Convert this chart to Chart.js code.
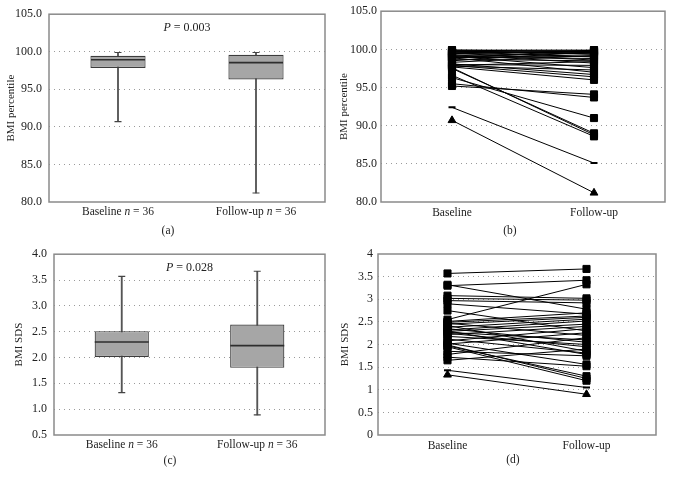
<!DOCTYPE html>
<html>
<head>
<meta charset="utf-8">
<script src="https://cdn.jsdelivr.net/npm/chart.js@4.4.0/dist/chart.umd.min.js"></script>
<style>
  body { margin: 0; background: #fff; width: 673px; height: 478px; position: relative; overflow: hidden;
         font-family: 'Liberation Serif', 'DejaVu Serif', serif; }
  canvas { position: absolute; }
  .cap { position: absolute; font-size: 11.5px; color: #222; transform: translateX(-50%); line-height: 14px; }
</style>
</head>
<body>
<canvas id="chartA" width="334" height="224" style="left:0;top:0"></canvas>
<canvas id="chartB" width="339" height="224" style="left:334px;top:0"></canvas>
<canvas id="chartC" width="334" height="220" style="left:0;top:240px"></canvas>
<canvas id="chartD" width="339" height="220" style="left:334px;top:240px"></canvas>
<div class="cap" style="left:168px;top:223px">(a)</div>
<div class="cap" style="left:510px;top:223px">(b)</div>
<div class="cap" style="left:170px;top:453px">(c)</div>
<div class="cap" style="left:513px;top:452px">(d)</div>
<script>
// categories
const boxLabels = ['Baseline', 'Follow-up'];
const nLabels = ['36', '36'];
const pairLabels = ['Baseline', 'Follow-up'];

// (a) BMI percentile, box plot
const pctMin = [90.7, 81.2];
const pctQ1 = [97.84, 96.32];
const pctMed = [98.94, 98.55];
const pctQ3 = [99.46, 99.6];
const pctMax = [99.9, 99.9];

// (c) BMI SDS, box plot
const sdsMin = [1.32, 0.89];
const sdsQ1 = [2.01, 1.80];
const sdsMed = [2.30, 2.23];
const sdsQ3 = [2.51, 2.64];
const sdsMax = [3.57, 3.67];

// (b) BMI percentile per child, baseline -> follow-up
const pctBase = [99.9, 99.9, 99.8, 99.8, 99.7, 99.7, 99.6, 99.5, 99.5, 99.4, 99.3, 99.2,
  99.1, 99.0, 99.0, 98.9, 98.9, 98.9, 98.9, 98.7, 98.5, 98.3, 98.1, 98.0,
  97.9, 97.9, 97.8, 97.7, 97.6, 97.5, 96.6, 96.3, 95.5, 95.2, 92.4, 90.7];
const pctFollow = [99.9, 99.7, 99.8, 99.4, 99.8, 99.0, 99.6, 99.7, 98.6, 99.8, 98.2, 99.5,
  97.6, 99.6, 98.8, 99.9, 99.3, 97.0, 99.1, 98.5, 99.7, 99.2, 96.7, 97.9,
  96.4, 98.4, 97.3, 96.0, 88.8, 89.0, 88.6, 91.0, 93.7, 94.1, 85.1, 81.2];

// (d) BMI SDS per child, baseline -> follow-up
const sdsBase = [3.57, 3.32, 3.30, 2.55, 3.08, 3.02, 2.97, 2.90, 2.75, 2.51, 2.49, 2.47,
  2.45, 2.42, 2.38, 2.35, 2.32, 2.30, 2.29, 2.27, 2.25, 2.22, 2.18, 2.12,
  2.08, 2.03, 2.01, 1.99, 1.97, 1.95, 1.85, 1.78, 1.72, 1.65, 1.43, 1.33];
const sdsFollow = [3.67, 2.78, 3.42, 3.33, 3.02, 2.98, 2.92, 2.67, 2.30, 2.70, 2.63, 2.20,
  2.60, 1.85, 2.56, 2.05, 2.52, 1.78, 2.45, 2.10, 1.95, 2.40, 2.00, 1.81,
  2.35, 1.56, 2.26, 1.25, 1.30, 1.20, 1.75, 2.15, 1.52, 1.90, 1.05, 0.90];

const FONT = "'Liberation Serif', 'DejaVu Serif', serif";
const TXT = '#222';

function richText(ctx, parts, cx, cy, size) {
  let total = 0;
  parts.forEach(p => {
    ctx.font = (p.it ? 'italic ' : '') + size + 'px ' + FONT;
    p.w = ctx.measureText(p.t).width;
    total += p.w;
  });
  let x = cx - total / 2;
  ctx.textBaseline = 'middle';
  ctx.textAlign = 'left';
  ctx.fillStyle = TXT;
  parts.forEach(p => {
    ctx.font = (p.it ? 'italic ' : '') + size + 'px ' + FONT;
    ctx.fillText(p.t, x, cy);
    x += p.w;
  });
}

const frame = {
  id: 'frame',
  beforeDatasetsDraw(chart) {
    const { ctx, chartArea: a } = chart;
    ctx.save();
    ctx.strokeStyle = '#8a8a8a';
    ctx.lineWidth = 1.5;
    ctx.strokeRect(a.left, a.top, a.right - a.left, a.bottom - a.top);
    ctx.restore();
  }
};

const boxText = {
  id: 'boxText',
  afterDraw(chart, args, opts) {
    const { ctx, chartArea: a, scales: { x } } = chart;
    ctx.save();
    richText(ctx, [{ t: 'P', it: true }, { t: ' = ' + opts.p }], (a.left + a.right) / 2, a.top + 14, 12);
    boxLabels.forEach((lab, i) => {
      richText(ctx, [{ t: lab + ' ' }, { t: 'n', it: true }, { t: ' = ' + nLabels[i] }],
        x.getPixelForTick(i), x.top + 10, 11.5);
    });
    ctx.restore();
  }
};

function yScale(min, max, step, fmt, title, w, pad, titlePad) {
  return {
    min: min, max: max,
    afterFit: s => { s.width = w; },
    ticks: { stepSize: step, padding: pad, color: TXT, font: { family: FONT, size: 12 }, callback: fmt },
    grid: {
      color: c => (c.tick && c.tick.value > min && c.tick.value < max) ? '#9a9a9a' : 'rgba(0,0,0,0)',
      drawTicks: false, lineWidth: 1
    },
    border: { display: false, dash: [1, 4] },
    title: { display: true, text: title, color: TXT, font: { family: FONT, size: 11 }, padding: { top: titlePad, bottom: 0 } }
  };
}

function baseOptions(y, xh, padTop, padRight) {
  return {
    responsive: false,
    devicePixelRatio: 1,
    animation: false,
    layout: { autoPadding: false, padding: { top: padTop, right: padRight, left: 0, bottom: 0 } },
    plugins: { legend: { display: false }, tooltip: { enabled: false } },
    scales: {
      x: {
        offset: true,
        afterFit: s => { s.height = xh; },
        grid: { display: false, drawTicks: false },
        border: { display: false },
        ticks: { padding: 4, color: TXT, font: { family: FONT, size: 11.5 } }
      },
      y: y
    }
  };
}

function boxChart(id, mins, q1s, meds, q3s, maxs, y, p, xh, padTop, padRight) {
  const opts = baseOptions(y, xh, padTop, padRight);
  opts.scales.x.ticks.display = false;
  opts.plugins.boxText = { p: p };
  return new Chart(document.getElementById(id), {
    type: 'bar',
    data: {
      labels: boxLabels,
      datasets: [
        { type: 'line', data: meds, showLine: false, pointStyle: 'line', pointRadius: 27,
          pointBorderColor: '#2e2e2e', pointBorderWidth: 1.6, order: 1 },
        { type: 'line', data: maxs, showLine: false, pointStyle: 'line', pointRadius: 3.5,
          pointBorderColor: '#444', pointBorderWidth: 1.2, order: 2 },
        { type: 'line', data: mins, showLine: false, pointStyle: 'line', pointRadius: 3.5,
          pointBorderColor: '#444', pointBorderWidth: 1.2, order: 2 },
        { data: q1s.map((q, i) => [q, q3s[i]]), backgroundColor: '#a6a6a6', borderColor: '#3c3c3c',
          borderWidth: 1.2, borderSkipped: false, barPercentage: 0.4, categoryPercentage: 1,
          grouped: false, order: 3 },
        { data: mins.map((m, i) => [m, maxs[i]]), backgroundColor: '#555', barThickness: 1.2,
          grouped: false, order: 4 }
      ]
    },
    options: opts,
    plugins: [frame, boxText]
  });
}

function pairChart(id, base, follow, y, xh, padTop, padRight) {
  const n = base.length;
  return new Chart(document.getElementById(id), {
    type: 'line',
    data: {
      labels: pairLabels,
      datasets: base.map((b, i) => ({
        data: [b, follow[i]],
        borderColor: '#000', borderWidth: 1,
        pointBackgroundColor: '#000', pointBorderColor: '#000',
        pointStyle: i === n - 1 ? 'triangle' : (i === n - 2 ? 'line' : 'rect'),
        pointRadius: i === n - 1 ? 4.5 : (i === n - 2 ? 3.5 : 5),
        pointBorderWidth: i === n - 2 ? 2 : 1
      }))
    },
    options: baseOptions(y, xh, padTop, padRight),
    plugins: [frame]
  });
}

const fix1 = v => v.toFixed(1);
const plain = v => String(v);

boxChart('chartA', pctMin, pctQ1, pctMed, pctQ3, pctMax,
  yScale(80, 105, 5, fix1, 'BMI percentile', 49, 7, 5), '0.003', 22, 11, 9);
pairChart('chartB', pctBase, pctFollow,
  yScale(80, 105, 5, fix1, 'BMI percentile', 47, 4, 4), 22, 11, 8);
boxChart('chartC', sdsMin, sdsQ1, sdsMed, sdsQ3, sdsMax,
  yScale(0.5, 4, 0.5, fix1, 'BMI SDS', 54, 7, 13), '0.028', 25, 14, 9);
pairChart('chartD', sdsBase, sdsFollow,
  yScale(0, 4, 0.5, plain, 'BMI SDS', 44, 5, 5), 25, 14, 17);
</script>
</body>
</html>
